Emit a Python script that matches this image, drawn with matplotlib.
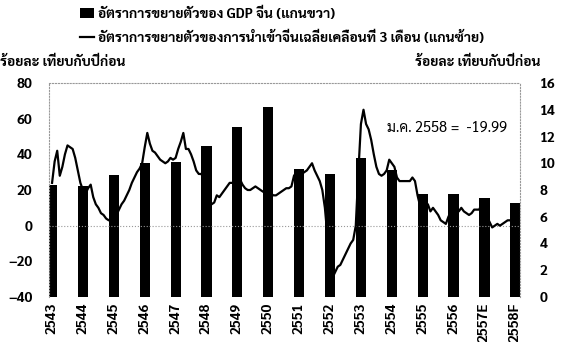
import numpy as np
import matplotlib
matplotlib.use("Agg")
import matplotlib.pyplot as plt
from matplotlib import font_manager
from matplotlib.patches import Patch
from matplotlib.lines import Line2D

# pick a Thai-capable font
names = {f.name for f in font_manager.fontManager.ttflist}
thai = next((n for n in ["Sarabun", "Noto Sans Thai Looped", "Tahoma", "Noto Sans Thai",
                         "Bai Jamjuree", "Chakra Petch", "Athiti", "Anuphan"] if n in names), "DejaVu Sans")
fam = [thai, "DejaVu Sans"]
plt.rcParams["font.family"] = fam

years = ["2543", "2544", "2545", "2546", "2547", "2548", "2549", "2550",
         "2551", "2552", "2553", "2554", "2555", "2556", "2557E", "2558F"]
gdp = [8.4, 8.3, 9.1, 10.0, 10.1, 11.3, 12.7, 14.2, 9.6, 9.2, 10.4, 9.5, 7.7, 7.7, 7.4, 7.0]

# imports growth, 3-month moving average, monthly from Jan 2543 to Jan 2558
imports = [
    24, 36, 42, 28, 33, 40, 45, 44, 43, 38, 31, 24,     # 2543
    20, 18, 21, 23, 16, 12, 10, 7, 6, 4, 3, 4,          # 2544
    4, 6, 9, 12, 14, 17, 20, 24, 27, 30, 32, 35,        # 2545
    44, 52, 46, 42, 41, 39, 37, 36, 35, 36, 38, 37,     # 2546
    38, 43, 47, 52, 43, 43, 40, 36, 31, 29, 29, 26,     # 2547
    14, 12, 12, 13, 17, 16, 18, 20, 22, 24, 24, 25,     # 2548
    25, 26, 23, 21, 20, 20, 21, 22, 21, 20, 19, 19,     # 2549
    18, 18, 17, 17, 18, 19, 20, 21, 21, 22, 28, 30,     # 2550
    30, 29, 30, 31, 33, 35, 31, 28, 25, 20, 10, -6,     # 2551
    -24, -29, -26, -23, -22, -19, -16, -13, -10, -8, 0, 30,  # 2552
    57, 65, 57, 54, 48, 40, 33, 29, 28, 29, 31, 37,     # 2553
    35, 33, 27, 25, 25, 25, 25, 25, 27, 25, 17, 11,     # 2554
    10, 12, 12, 8, 10, 8, 6, 3, 2, 1, 5, 8,             # 2555
    9, 8, 8, 10, 8, 7, 6, 7, 9, 9, 9, 13,               # 2556
    8, 5, 2, -1, 0, 1, 0, 1, 2, 3, 3, 2,                # 2557
    3,                                                  # 2558
]
months = np.arange(len(imports)) / 12.0

fig = plt.figure(figsize=(5.61, 3.42), dpi=100)
ax = fig.add_axes([0.0873, 0.1316, 0.8396, 0.6257])
ax2 = ax.twinx()

x = np.arange(len(years))
ax2.bar(x, gdp, width=0.33, color="black", zorder=2)
ax2.set_ylim(0, 16)
ax2.set_yticks(range(0, 17, 2))

ax.plot(months, imports, color="black", lw=1.6, zorder=3)
ax.axhline(0, color="#999999", lw=0.8, ls=":", zorder=1)
ax.set_ylim(-40, 80)
ax.set_yticks(range(-40, 81, 20))
ax.set_xlim(-0.1, 15.15)
ax.set_xticks(x)
ax.set_xticklabels(years, rotation=90, fontsize=10, fontweight="bold")

ax.set_zorder(ax2.get_zorder() + 1)
ax.patch.set_visible(False)

for a in (ax, ax2):
    a.tick_params(length=0, labelsize=10)
    for s in a.spines.values():
        s.set_visible(False)
    for lbl in a.get_yticklabels():
        lbl.set_fontweight("bold")
ax.tick_params(axis="y", pad=12)
ax.tick_params(axis="x", pad=4)
ax2.tick_params(axis="y", pad=14)
for side in ("top", "left", "right"):
    ax.spines[side].set_visible(True)
    ax.spines[side].set_color("#999999")
    ax.spines[side].set_linestyle(":")
    ax.spines[side].set_linewidth(0.8)

ax.text(10.84, 55, "ม.ค. 2558 =  -19.99", fontsize=10.5, va="center", ha="left")

fig.text(0.0, 0.818, "ร้อยละ เทียบกับปีก่อน", fontsize=10, fontweight="bold", va="center")
fig.text(0.963, 0.818, "ร้อยละ เทียบกับปีก่อน", fontsize=10, fontweight="bold", va="center", ha="right")

handles = [Patch(facecolor="black"), Line2D([], [], color="black", lw=1.6)]
labels = ["อัตราการขยายตัวของ GDP จีน (แกนขวา)",
          "อัตราการขยายตัวของการนำเข้าจีนเฉลี่ยเคลื่อนที่ 3 เดือน (แกนซ้าย)"]
fig.legend(handles, labels, loc="upper left", bbox_to_anchor=(0.12, 1.017), frameon=False,
           prop={"family": fam, "size": 10, "weight": "bold"}, handlelength=1.0,
           handleheight=0.8, handletextpad=0.3, labelspacing=0.7)

fig.savefig("out.png", dpi=100)
